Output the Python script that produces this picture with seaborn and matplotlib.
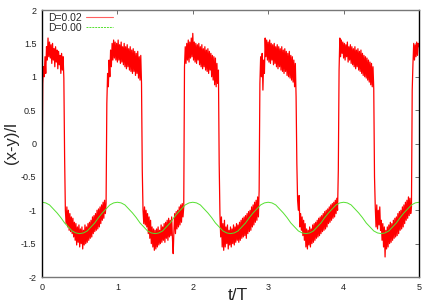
import numpy as np
import pandas as pd
import seaborn as sns
import matplotlib
matplotlib.use('Agg')
import matplotlib.pyplot as plt
from matplotlib.lines import Line2D

# red series, D=0.02, one value every 0.01 in t/T
red_vals = [
    -0.60, 0.90, 1.15, 1.00, 1.30, 1.05, 1.45, 1.25, 1.58, 1.30,
    1.52, 1.28, 1.48, 1.20, 1.50, 1.25, 1.42, 1.15, 1.45, 1.22,
    1.40, 1.12, 1.38, 1.18, 1.32, 1.05, 1.35, 1.10, 1.30, 0.98,
    -0.20, -1.00, -1.20, -0.95, -1.25, -1.00, -1.30, -1.05, -1.32, -1.10,
    -1.35, -1.12, -1.40, -1.18, -1.45, -1.20, -1.52, -1.25, -1.48, -1.22,
    -1.55, -1.28, -1.50, -1.25, -1.58, -1.30, -1.52, -1.22, -1.50, -1.25,
    -1.48, -1.20, -1.45, -1.18, -1.42, -1.15, -1.40, -1.10, -1.35, -1.08,
    -1.32, -1.05, -1.30, -1.00, -1.28, -0.98, -1.25, -0.95, -1.20, -0.92,
    -1.15, -0.88, -1.12, -0.85, -1.05, -0.90, 0.60, 1.05, 0.85, 1.25,
    1.00, 1.40, 1.15, 1.50, 1.25, 1.55, 1.28, 1.52, 1.25, 1.50,
    1.22, 1.55, 1.25, 1.48, 1.20, 1.52, 1.22, 1.45, 1.18, 1.50,
    1.15, 1.45, 1.12, 1.48, 1.15, 1.42, 1.10, 1.45, 1.08, 1.40,
    1.05, 1.42, 1.08, 1.38, 1.02, 1.35, 1.05, 1.38, 0.98, 1.30,
    0.95, 1.32, 0.90, -0.40, -1.00, -1.20, -0.95, -1.22, -1.00, -1.25,
    -1.05, -1.35, -1.10, -1.42, -1.15, -1.50, -1.25, -1.55, -1.28, -1.60,
    -1.30, -1.58, -1.28, -1.55, -1.25, -1.52, -1.30, -1.50, -1.22, -1.48,
    -1.25, -1.45, -1.20, -1.48, -1.18, -1.42, -1.15, -1.45, -1.12, -1.40,
    -1.15, -1.38, -1.10, -1.42, -1.65, -1.30, -1.05, -1.35, -1.02, -1.28,
    -1.00, -1.25, -0.95, -1.22, -0.92, -1.18, -0.90, -1.10, -0.95, 1.15,
    1.45, 1.20, 1.50, 1.25, 1.55, 1.22, 1.52, 1.28, 1.58, 1.30,
    1.65, 1.25, 1.52, 1.22, 1.50, 1.20, 1.48, 1.25, 1.50, 1.18,
    1.45, 1.15, 1.48, 1.12, 1.42, 1.15, 1.45, 1.10, 1.40, 1.08,
    1.42, 1.05, 1.38, 1.10, 1.35, 1.00, 1.32, 0.95, 1.30, 0.88,
    1.28, 0.85, 1.20, 0.90, 1.10, -0.30, -1.05, -1.40, -1.10, -1.55,
    -1.20, -1.60, -1.15, -1.55, -1.25, -1.50, -1.22, -1.58, -1.30, -1.52,
    -1.25, -1.55, -1.28, -1.50, -1.22, -1.52, -1.25, -1.48, -1.20, -1.45,
    -1.22, -1.48, -1.18, -1.45, -1.15, -1.42, -1.12, -1.40, -1.10, -1.38,
    -1.08, -1.42, -1.05, -1.35, -1.02, -1.32, -1.00, -1.30, -0.95, -1.25,
    -0.92, -1.22, -0.88, -1.18, -0.85, -1.15, -0.80, -1.10, -0.70, 0.90,
    1.30, 1.00, 1.35, 0.80, 1.25, 1.05, 1.58, 1.30, 1.55, 1.25,
    1.52, 1.22, 1.55, 1.20, 1.50, 1.25, 1.48, 1.18, 1.50, 1.20,
    1.45, 1.15, 1.48, 1.12, 1.45, 1.15, 1.42, 1.10, 1.45, 1.08,
    1.40, 1.05, 1.42, 1.08, 1.38, 1.02, 1.35, 1.00, 1.38, 0.98,
    1.32, 0.95, 1.30, 0.92, 1.25, 0.85, 1.20, 0.70, -0.30, -0.85,
    -1.00, -0.78, -1.25, -1.05, -1.30, -1.10, -1.38, -1.15, -1.45, -1.20,
    -1.55, -1.28, -1.58, -1.30, -1.52, -1.25, -1.55, -1.28, -1.50, -1.22,
    -1.48, -1.20, -1.45, -1.18, -1.42, -1.15, -1.40, -1.12, -1.38, -1.10,
    -1.35, -1.08, -1.32, -1.05, -1.30, -1.02, -1.28, -1.00, -1.25, -0.98,
    -1.20, -0.95, -1.18, -0.92, -1.15, -0.90, -1.12, -0.88, -1.10, -0.85,
    -1.05, -0.82, -1.00, -0.40, 1.10, 1.58, 1.30, 1.55, 1.35, 1.52,
    1.28, 1.50, 1.25, 1.48, 1.30, 1.52, 1.22, 1.45, 1.25, 1.48,
    1.20, 1.45, 1.18, 1.42, 1.15, 1.45, 1.12, 1.40, 1.15, 1.42,
    1.10, 1.38, 1.08, 1.40, 1.05, 1.35, 1.02, 1.32, 1.00, 1.30,
    0.98, 1.28, 0.95, 1.25, 0.92, 1.22, 0.88, 1.20, 0.85, 1.15,
    0.82, -0.50, -0.95, -1.25, -0.92, -1.28, -1.00, -1.22, -0.95, -1.30,
    -1.15, -1.45, -1.20, -1.55, -1.25, -1.70, -1.30, -1.58, -1.25, -1.55,
    -1.22, -1.50, -1.18, -1.48, -1.20, -1.45, -1.15, -1.42, -1.12, -1.40,
    -1.10, -1.38, -1.05, -1.35, -1.02, -1.30, -1.00, -1.28, -0.95, -1.25,
    -0.92, -1.20, -0.88, -1.15, -0.85, -1.12, -0.80, -1.08, -0.82, -1.05,
    -0.95, 0.80, 1.20, 1.50, 1.25, 1.48, 1.30, 1.52, 1.32, 1.50,
    1.45,
]

# green series, D=0.00, one value every 0.05 in t/T
green_vals = [
    -0.88, -0.89, -0.92, -0.98, -1.04, -1.11, -1.19, -1.25, -1.31, -1.34,
    -1.35, -1.34, -1.31, -1.25, -1.19, -1.11, -1.04, -0.98, -0.92, -0.89,
    -0.88, -0.89, -0.92, -0.98, -1.04, -1.11, -1.19, -1.25, -1.31, -1.34,
    -1.35, -1.34, -1.31, -1.25, -1.19, -1.11, -1.04, -0.98, -0.92, -0.89,
    -0.88, -0.89, -0.92, -0.98, -1.04, -1.11, -1.19, -1.25, -1.31, -1.34,
    -1.35, -1.34, -1.31, -1.25, -1.19, -1.11, -1.04, -0.98, -0.92, -0.89,
    -0.88, -0.89, -0.92, -0.98, -1.04, -1.11, -1.19, -1.25, -1.31, -1.34,
    -1.35, -1.34, -1.31, -1.25, -1.19, -1.11, -1.04, -0.98, -0.92, -0.89,
    -0.88, -0.89, -0.92, -0.98, -1.04, -1.11, -1.19, -1.25, -1.31, -1.34,
    -1.35, -1.34, -1.31, -1.25, -1.19, -1.11, -1.04, -0.98, -0.92, -0.89,
    -0.88,
]

red_t = np.arange(len(red_vals)) * 0.01
green_t = np.arange(len(green_vals)) * 0.05

red_df = pd.DataFrame({'t': red_t, 'v': red_vals})
green_df = pd.DataFrame({'t': green_t, 'v': green_vals})

red_col = '#ff0000'
green_col = '#55e030'

sns.set_style('white')
plt.rcParams['font.family'] = ['Liberation Sans', 'DejaVu Sans']

fig = plt.figure(figsize=(4.36, 3.05), dpi=100)
ax = fig.add_axes([0.0963, 0.0918, 0.8647, 0.8754])

sns.lineplot(x='t', y='v', data=red_df, ax=ax, color=red_col,
             linewidth=0.9, estimator=None, sort=False)
sns.lineplot(x='t', y='v', data=green_df, ax=ax, color=green_col,
             linewidth=0.7, estimator=None, sort=False)

ax.set_xlim(0, 5)
ax.set_ylim(-2, 2)
ax.set_xticks([0, 1, 2, 3, 4, 5])
ax.set_yticks([-2, -1.5, -1, -0.5, 0, 0.5, 1, 1.5, 2])
ax.set_yticklabels(['-2', '-1.5', '-1', '-0.5', '0', '0.5', '1', '1.5', '2'])
ax.tick_params(labelsize=6.5, direction='in', length=3, width=0.6,
               top=True, right=True, colors='#555555', labelcolor='#222222',
               pad=4)
for s in ['left', 'right']:
    ax.spines[s].set_color('black')
    ax.spines[s].set_linewidth(1.0)
for s in ['top', 'bottom']:
    ax.spines[s].set_color('#777777')
    ax.spines[s].set_linewidth(1.0)

ax.set_xlabel('t/T', fontsize=12.5)
ax.xaxis.set_label_coords(0.52, -0.04)
ax.set_ylabel('(x-y)/l', fontsize=12)
ax.yaxis.set_label_coords(-0.062, 0.5)

handles = [Line2D([], [], color='#ff6060', linewidth=0.8),
           Line2D([], [], color=green_col, linewidth=0.7, dashes=[2, 1])]
ax.legend(handles, ['D=0.02', 'D=0.00'], loc='upper left',
          bbox_to_anchor=(0.01, 1.0), fontsize=7.5,
          frameon=False, markerfirst=False, handlelength=2.6,
          borderaxespad=0.1, borderpad=0.15, labelspacing=0.05,
          handletextpad=0.4)

fig.savefig('out.png', dpi=100)
